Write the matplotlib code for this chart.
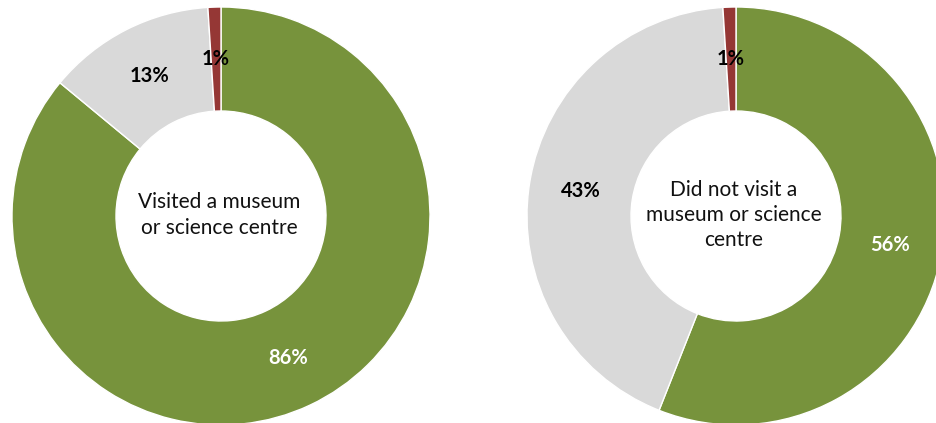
import matplotlib
matplotlib.use("Agg")
import matplotlib.pyplot as plt

# share of respondents per answer, in the order drawn (clockwise from 12 o'clock)
answers = ["Yes", "No", "Don't know"]
visited = [86, 13, 1]
not_visited = [56, 43, 1]
centre_titles = ["Visited a museum\nor science centre",
                 "Did not visit a\nmuseum or science\ncentre"]

colors = ["#77933C", "#D9D9D9", "#953735"]
label_colors = ["white", "black", "black"]

plt.rcParams["font.family"] = ["Lato", "DejaVu Sans"]

W, H = 937, 423
fig = plt.figure(figsize=(W / 100, H / 100), dpi=100)
ax = fig.add_axes([0, 0, 1, 1])

radius = 209
ring = 104
centres = [(221, H - 216), (736, H - 216)]

for (cx, cy), vals, title in zip(centres, [visited, not_visited], centre_titles):
    wedges, texts, autotexts = ax.pie(
        vals, colors=colors, startangle=90, counterclock=False,
        center=(cx, cy), radius=radius,
        wedgeprops=dict(width=ring, edgecolor="white", linewidth=1),
        autopct=lambda p: f"{p:.0f}%", pctdistance=0.75,
        textprops=dict(fontsize=14.5, fontweight="bold"))
    for t, c in zip(autotexts, label_colors):
        t.set_color(c)
    ax.text(cx - 2, cy + 1, title, ha="center", va="center", fontsize=15,
            linespacing=1.32, color="#111111")

ax.set_xlim(0, W)
ax.set_ylim(0, H)
ax.set_aspect("equal")
ax.axis("off")

fig.savefig("out.png", dpi=100, facecolor="white")
